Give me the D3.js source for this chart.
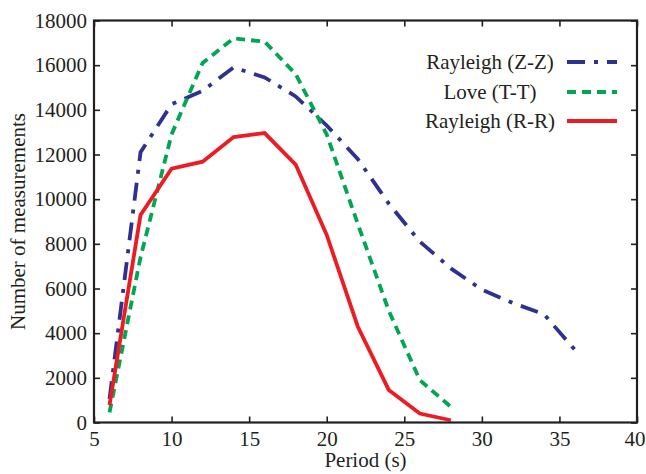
<!DOCTYPE html>
<html><head><meta charset="utf-8">
<script src="https://cdn.jsdelivr.net/npm/d3@7"></script>
<style>
html,body{margin:0;padding:0;background:#fff;}
text{font-family:"Liberation Serif","Times New Roman",serif;fill:#231f20;}
</style></head>
<body><svg id="chart" width="646" height="474"></svg>
<script>
const periods = [6, 8, 10, 12, 14, 16, 18, 20, 22, 24, 26, 28, 30, 32, 34, 36];
const rayleighZZ = [1050, 12100, 14250, 14850, 15900, 15450, 14600, 13300, 11800, 9800, 8100, 6900, 5950, 5350, 4850, 3250];
const periodsShort = [6, 8, 10, 12, 14, 16, 18, 20, 22, 24, 26, 28];
const loveTT = [450, 7400, 12900, 16100, 17200, 17050, 15600, 12900, 8900, 5000, 1900, 700];
const rayleighRR = [780, 9290, 11370, 11680, 12780, 12960, 11550, 8400, 4300, 1460, 400, 100];
const xTicks = [5, 10, 15, 20, 25, 30, 35, 40];
const yTicks = [0, 2000, 4000, 6000, 8000, 10000, 12000, 14000, 16000, 18000];
const seriesNames = ["Rayleigh (Z-Z)", "Love (T-T)", "Rayleigh (R-R)"];
const seriesColors = ["#2e3192", "#00a651", "#ed1c24"];
const seriesDash = ["18,9,4,9", "9,6", null];

(function () {
const svg = d3.select("#chart");
const L = 94, R = 637, T = 20.5, B = 422.5;
const x = d3.scaleLinear().domain([5, 40]).range([L, R]);
const y = d3.scaleLinear().domain([0, 18000]).range([B, T]);
const axisColor = "#231f20";

const series = [
  {xs: periods, ys: rayleighZZ},
  {xs: periodsShort, ys: loveTT},
  {xs: periodsShort, ys: rayleighRR}
];
const line = d3.line().x(d => x(d[0])).y(d => y(d[1]));
series.forEach((s, i) => {
  const pts = s.xs.map((v, j) => [v, s.ys[j]]);
  svg.append("path").datum(pts)
    .attr("d", line)
    .attr("fill", "none")
    .attr("stroke", seriesColors[i])
    .attr("stroke-width", 3.8)
    .attr("stroke-linejoin", "miter")
    .attr("stroke-dasharray", seriesDash[i]);
});

const fs = 21;
const gBottom = svg.append("g").attr("transform", `translate(0,${B})`)
  .call(d3.axisBottom(x).tickValues(xTicks).tickSize(-6).tickPadding(9).tickFormat(d3.format("d")));
const gTop = svg.append("g").attr("transform", `translate(0,${T})`)
  .call(d3.axisTop(x).tickValues(xTicks).tickSize(-6).tickFormat(""));
const gLeft = svg.append("g").attr("transform", `translate(${L},0)`)
  .call(d3.axisLeft(y).tickValues(yTicks).tickSize(-6).tickPadding(7).tickFormat(d3.format("d")));
const gRight = svg.append("g").attr("transform", `translate(${R},0)`)
  .call(d3.axisRight(y).tickValues(yTicks).tickSize(-6).tickFormat(""));
[gBottom, gTop, gLeft, gRight].forEach(g => {
  g.select(".domain").remove();
  g.selectAll(".tick line").attr("stroke", axisColor).attr("stroke-width", 1.6);
  g.selectAll("text").style("font-family", '"Liberation Serif","Times New Roman",serif')
    .style("font-size", fs + "px").attr("fill", axisColor);
});
gBottom.selectAll(".tick text").attr("dy", "0.7em");
gBottom.selectAll(".tick text").filter(d => d === 40).attr("dx", -2.5);
svg.append("rect").attr("x", L).attr("y", T).attr("width", R - L).attr("height", B - T)
  .attr("fill", "none").attr("stroke", axisColor).attr("stroke-width", 2.2);

svg.append("text").attr("x", (L + R) / 2).attr("y", 467).attr("text-anchor", "middle")
  .style("font-size", fs + "px").text("Period (s)");
svg.append("text").attr("transform", `translate(25,${(T + B) / 2}) rotate(-90)`)
  .attr("text-anchor", "middle").style("font-size", fs + "px").text("Number of measurements");

const legY = [62, 92, 121];
seriesNames.forEach((n, i) => {
  svg.append("text").attr("x", 490).attr("y", legY[i]).attr("dy", "0.33em")
    .attr("text-anchor", "middle").style("font-size", fs + "px").text(n);
  svg.append("line").attr("x1", 567).attr("x2", 617).attr("y1", legY[i]).attr("y2", legY[i])
    .attr("stroke", seriesColors[i]).attr("stroke-width", 3.8)
    .attr("stroke-dasharray", seriesDash[i]);
});
})();
</script></body></html>
